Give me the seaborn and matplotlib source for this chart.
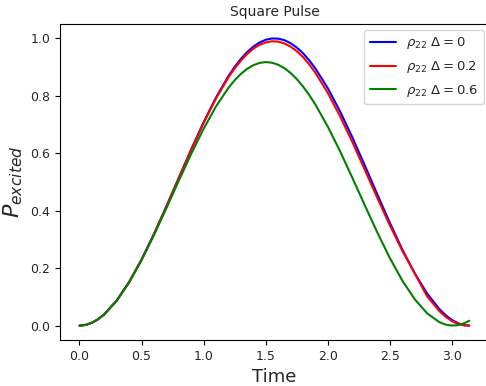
import matplotlib
matplotlib.use("Agg")
import matplotlib.pyplot as plt
import seaborn as sns
import pandas as pd

time = [0.0, 0.05, 0.1, 0.15, 0.2, 0.3, 0.4, 0.5, 0.6, 0.7, 0.8, 0.9, 1.0, 1.1,
        1.2, 1.25, 1.3, 1.35, 1.4, 1.45, 1.5, 1.55, 1.6, 1.65, 1.7, 1.75, 1.8,
        1.85, 1.9, 2.0, 2.1, 2.2, 2.3, 2.4, 2.5, 2.6, 2.7, 2.8, 2.9, 2.95, 3.0,
        3.05, 3.1, 3.14]

p_d0 = [0.0, 0.0025, 0.0100, 0.0223, 0.0395, 0.0873, 0.1516, 0.2298, 0.3188,
        0.4150, 0.5146, 0.6136, 0.7081, 0.7943, 0.8687, 0.9006, 0.9284, 0.9520,
        0.9711, 0.9855, 0.9950, 0.9996, 0.9991, 0.9938, 0.9834, 0.9682, 0.9484,
        0.9241, 0.8955, 0.8268, 0.7451, 0.6537, 0.5561, 0.4563, 0.3582, 0.2658,
        0.1827, 0.1122, 0.0572, 0.0363, 0.0199, 0.0084, 0.0017, 0.0000]

p_d02 = [0.0, 0.0025, 0.0100, 0.0223, 0.0395, 0.0873, 0.1516, 0.2297, 0.3185,
         0.4145, 0.5135, 0.6119, 0.7056, 0.7909, 0.8642, 0.8954, 0.9222, 0.9454,
         0.9640, 0.9774, 0.9859, 0.9899, 0.9887, 0.9825, 0.9714, 0.9555, 0.9352,
         0.9100, 0.8806, 0.8105, 0.7282, 0.6372, 0.5412, 0.4442, 0.3497, 0.2614,
         0.1827, 0.1025, 0.0502, 0.0307, 0.0158, 0.0058, 0.0007, 0.0002]

p_d06 = [0.0, 0.0025, 0.0100, 0.0223, 0.0394, 0.0871, 0.1509, 0.2281, 0.3153,
         0.4087, 0.5044, 0.5980, 0.6854, 0.7633, 0.8278, 0.8541, 0.8762, 0.8937,
         0.9065, 0.9145, 0.9174, 0.9154, 0.9083, 0.8964, 0.8797, 0.8585, 0.8328,
         0.8032, 0.7698, 0.6931, 0.6063, 0.5130, 0.4174, 0.3236, 0.2357, 0.1574,
         0.0923, 0.0430, 0.0119, 0.0035, 0.0001, 0.0017, 0.0082, 0.0170]

labels = [r"$\rho_{22}$ $\Delta = 0$", r"$\rho_{22}$ $\Delta = 0.2$", r"$\rho_{22}$ $\Delta = 0.6$"]
colors = ["blue", "red", "green"]

df = pd.concat([
    pd.DataFrame({"Time": time, "P": vals, "series": lab})
    for vals, lab in zip([p_d0, p_d02, p_d06], labels)
], ignore_index=True)

sns.set_style("ticks")
plt.rcParams["font.family"] = ["DejaVu Sans"]

fig = plt.figure(figsize=(4.86, 3.86), dpi=100)
ax = fig.add_axes([60 / 486, 1 - 340 / 386, (489 - 60) / 486, (340 - 24) / 386])

sns.lineplot(data=df, x="Time", y="P", hue="series", palette=colors,
             hue_order=labels, ax=ax, linewidth=1.5, sort=False, estimator=None)

ax.set_xticks([0.0, 0.5, 1.0, 1.5, 2.0, 2.5, 3.0])
ax.set_yticks([0.0, 0.2, 0.4, 0.6, 0.8, 1.0])
ax.set_xlim(-0.157, 3.299)
ax.set_ylim(-0.05, 1.05)
ax.tick_params(labelsize=9, color="black", length=3.5, width=0.8)
for s in ax.spines.values():
    s.set_color("black")
    s.set_linewidth(0.8)

ax.set_title("Square Pulse", fontsize=10)
ax.set_xlabel("Time", fontsize=13)
ax.set_ylabel(r"$P_{excited}$", fontsize=16)
ax.legend(loc="upper right", fontsize=9.5, title=None, framealpha=0.8,
          labelspacing=0.6, handlelength=2.0,
          bbox_to_anchor=((484 - 60) / (489 - 60), 1 - 6 / 316),
          borderaxespad=0.0)

fig.savefig("out.png", dpi=100)
